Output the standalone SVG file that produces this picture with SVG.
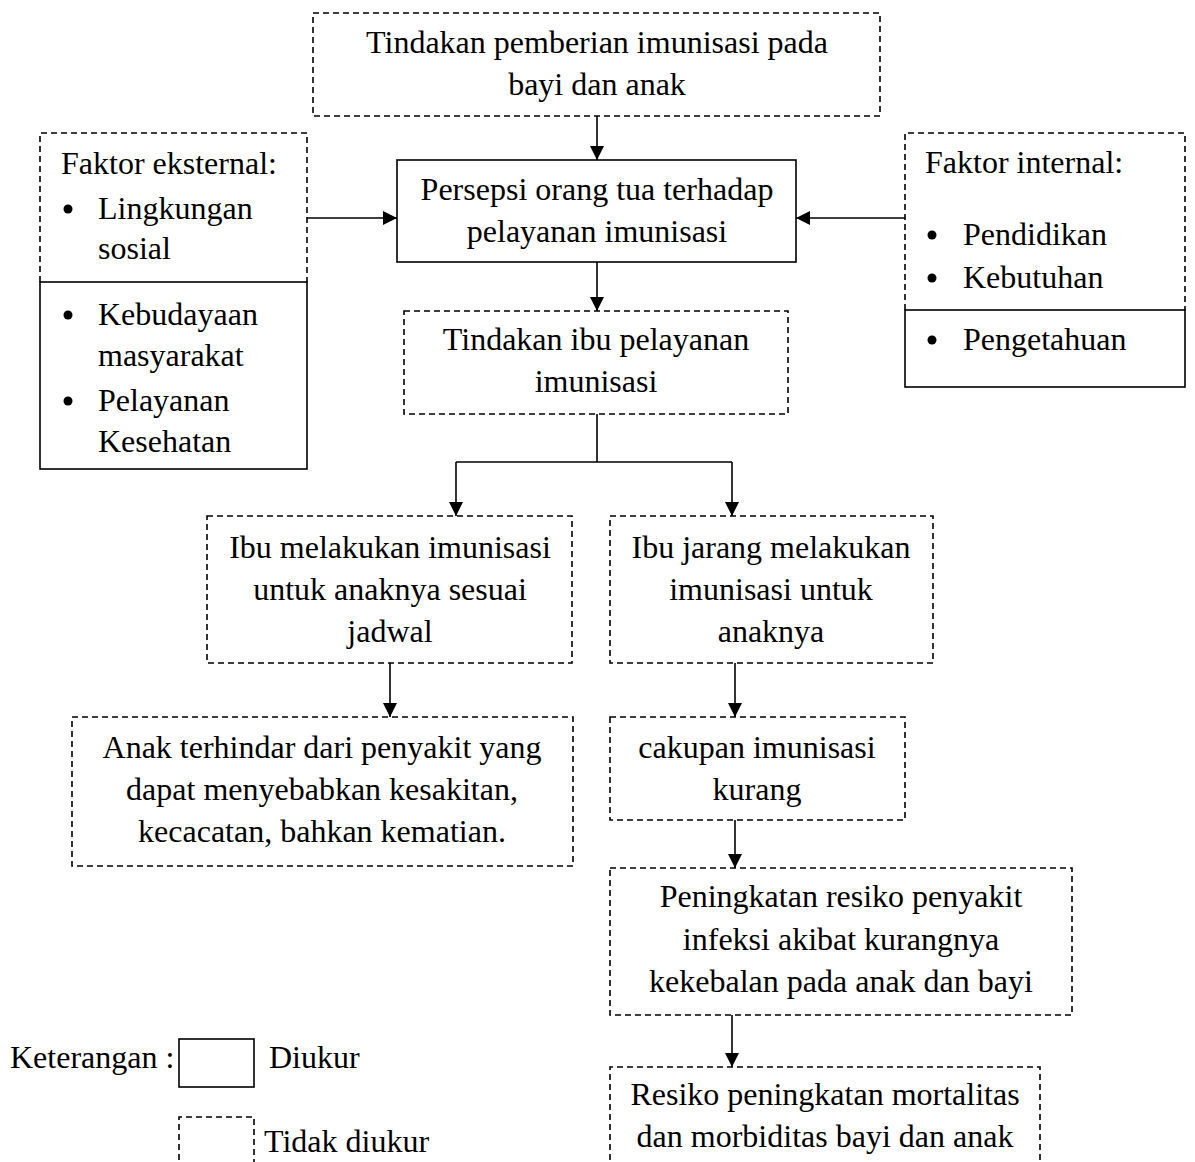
<svg xmlns="http://www.w3.org/2000/svg" width="1195" height="1162" viewBox="0 0 1195 1162">
<defs>
<style>
.t{font-family:"Liberation Serif","Times New Roman",serif;font-size:32px;fill:#000}
.c{text-anchor:middle}
.d{fill:none;stroke:#000;stroke-width:1.6;stroke-dasharray:6,4}
.s{fill:none;stroke:#000;stroke-width:1.6}
.ln{fill:none;stroke:#000;stroke-width:1.6}
</style>
<marker id="ah" viewBox="0 0 14 14" refX="14" refY="7" markerWidth="14" markerHeight="14" markerUnits="userSpaceOnUse" orient="auto">
<path d="M0,0 L14,7 L0,14 Z" fill="#000"/>
</marker>
</defs>
<rect width="1195" height="1162" fill="#fff"/>

<g id="connectors">
<line class="ln" x1="597" y1="116" x2="597" y2="160" marker-end="url(#ah)"/>
<line class="ln" x1="597" y1="262" x2="597" y2="311" marker-end="url(#ah)"/>
<line class="ln" x1="307" y1="218" x2="397" y2="218" marker-end="url(#ah)"/>
<line class="ln" x1="905" y1="218" x2="796" y2="218" marker-end="url(#ah)"/>
<polyline class="ln" points="597,414 597,462"/>
<polyline class="ln" points="456,462 732,462"/>
<line class="ln" x1="456" y1="462" x2="456" y2="516" marker-end="url(#ah)"/>
<line class="ln" x1="732" y1="462" x2="732" y2="516" marker-end="url(#ah)"/>
<line class="ln" x1="390" y1="663" x2="390" y2="717" marker-end="url(#ah)"/>
<line class="ln" x1="735" y1="663" x2="735" y2="717" marker-end="url(#ah)"/>
<line class="ln" x1="735" y1="820" x2="735" y2="868" marker-end="url(#ah)"/>
<line class="ln" x1="732" y1="1015" x2="732" y2="1067" marker-end="url(#ah)"/>
</g>

<g id="n-tindakan-pemberian">
<rect class="d" x="313" y="13" width="567" height="103"/>
<text class="t c" x="597" y="53">Tindakan pemberian imunisasi pada</text>
<text class="t c" x="597" y="95">bayi dan anak</text>
</g>

<g id="n-persepsi">
<rect class="s" x="397" y="160" width="399" height="102"/>
<text class="t c" x="597" y="200">Persepsi orang tua terhadap</text>
<text class="t c" x="597" y="242">pelayanan imunisasi</text>
</g>

<g id="n-faktor-eksternal">
<path class="d" d="M40,282 V133 H307 V282"/>
<rect class="s" x="40" y="282" width="267" height="187"/>
<text class="t" x="61" y="174">Faktor eksternal:</text>
<circle cx="68" cy="209" r="4.5"/>
<text class="t" x="98" y="219">Lingkungan</text>
<text class="t" x="98" y="259">sosial</text>
<circle cx="68" cy="315" r="4.5"/>
<text class="t" x="98" y="325">Kebudayaan</text>
<text class="t" x="98" y="366">masyarakat</text>
<circle cx="68" cy="401" r="4.5"/>
<text class="t" x="98" y="411">Pelayanan</text>
<text class="t" x="98" y="452">Kesehatan</text>
</g>

<g id="n-faktor-internal">
<path class="d" d="M905,310 V133 H1185 V310"/>
<rect class="s" x="905" y="310" width="280" height="77"/>
<text class="t" x="925" y="173">Faktor internal:</text>
<circle cx="932" cy="235" r="4.5"/>
<text class="t" x="963" y="245">Pendidikan</text>
<circle cx="932" cy="278" r="4.5"/>
<text class="t" x="963" y="288">Kebutuhan</text>
<circle cx="932" cy="340" r="4.5"/>
<text class="t" x="963" y="350">Pengetahuan</text>
</g>

<g id="n-tindakan-ibu">
<rect class="d" x="404" y="311" width="384" height="103"/>
<text class="t c" x="596" y="350">Tindakan ibu pelayanan</text>
<text class="t c" x="596" y="392">imunisasi</text>
</g>

<g id="n-ibu-melakukan">
<rect class="d" x="207" y="516" width="365" height="147"/>
<text class="t c" x="390" y="558">Ibu melakukan imunisasi</text>
<text class="t c" x="390" y="600">untuk anaknya sesuai</text>
<text class="t c" x="390" y="642">jadwal</text>
</g>

<g id="n-ibu-jarang">
<rect class="d" x="610" y="516" width="323" height="147"/>
<text class="t c" x="771" y="558">Ibu jarang melakukan</text>
<text class="t c" x="771" y="600">imunisasi untuk</text>
<text class="t c" x="771" y="642">anaknya</text>
</g>

<g id="n-anak-terhindar">
<rect class="d" x="72" y="717" width="501" height="149"/>
<text class="t c" x="322" y="758">Anak terhindar dari penyakit yang</text>
<text class="t c" x="322" y="800">dapat menyebabkan kesakitan,</text>
<text class="t c" x="322" y="842">kecacatan, bahkan kematian.</text>
</g>

<g id="n-cakupan">
<rect class="d" x="610" y="717" width="295" height="103"/>
<text class="t c" x="757" y="758">cakupan imunisasi</text>
<text class="t c" x="757" y="800">kurang</text>
</g>

<g id="n-peningkatan">
<rect class="d" x="610" y="868" width="462" height="147"/>
<text class="t c" x="841" y="907">Peningkatan resiko penyakit</text>
<text class="t c" x="841" y="950">infeksi akibat kurangnya</text>
<text class="t c" x="841" y="992">kekebalan pada anak dan bayi</text>
</g>

<g id="n-resiko">
<path class="d" d="M610,1170 V1067 H1040 V1170"/>
<text class="t c" x="825" y="1105">Resiko peningkatan mortalitas</text>
<text class="t c" x="825" y="1147">dan morbiditas bayi dan anak</text>
</g>

<g id="legend">
<text class="t" x="10" y="1068">Keterangan :</text>
<rect class="s" x="179" y="1039" width="75" height="48"/>
<text class="t" x="269" y="1068">Diukur</text>
<path class="d" d="M179,1170 V1117 H254 V1170"/>
<text class="t" x="264" y="1152">Tidak diukur</text>
</g>
</svg>
